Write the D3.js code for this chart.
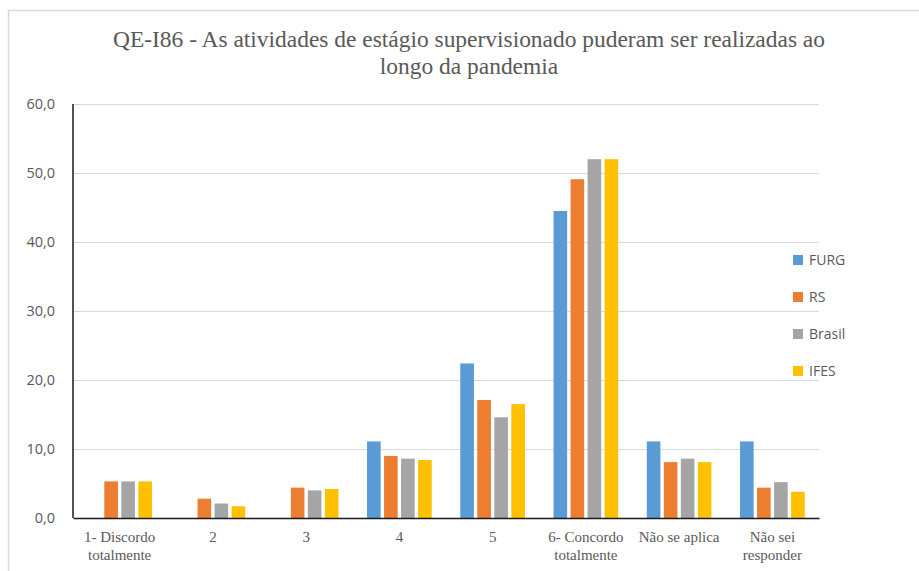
<!DOCTYPE html>
<html><head><meta charset="utf-8">
<script src="https://cdn.jsdelivr.net/npm/d3@7"></script>
<style>html,body{margin:0;padding:0;background:#fff;}svg{display:block;}</style>
</head><body>
<svg id="chart" width="919" height="571"></svg>
<script>
const titleLines = ["QE-I86 - As atividades de estágio supervisionado  puderam ser realizadas ao", "longo  da pandemia"];
const categories = ["1- Discordo\ntotalmente", "2", "3", "4", "5", "6- Concordo\ntotalmente", "Não se aplica", "Não sei\nresponder"];
const seriesNames = ["FURG", "RS", "Brasil", "IFES"];
const seriesColors = ["#5B9BD5", "#ED7D31", "#A5A5A5", "#FFC000"];
const FURG = [0, 0, 0, 11.1, 22.4, 44.5, 11.1, 11.1];
const RS = [5.3, 2.8, 4.4, 9.0, 17.1, 49.1, 8.1, 4.4];
const Brasil = [5.3, 2.1, 4.0, 8.6, 14.6, 52.0, 8.6, 5.2];
const IFES = [5.3, 1.7, 4.2, 8.4, 16.5, 52.0, 8.1, 3.8];
const yTicks = [0, 10, 20, 30, 40, 50, 60];

const seriesValues = [FURG, RS, Brasil, IFES];
const svg = d3.select("#chart");
const W = 919, H = 571;
const m = {left: 73, right: 100, top: 104, bottom: 53};
const innerW = W - m.left - m.right, innerH = H - m.top - m.bottom;

// outer border (partially visible)
svg.append("path").attr("d", `M8.5,${H} L8.5,10.5 L${W},10.5`).attr("fill","none").attr("stroke","#d9d9d9").attr("stroke-width",1.5);

const x = d3.scaleBand().domain(categories).range([m.left, m.left + innerW]).padding(0);
const y = d3.scaleLinear().domain([0, 60]).range([m.top + innerH, m.top]);
const groupW = x.bandwidth() * 0.73;
const xs = d3.scaleBand().domain(seriesNames).range([0, groupW]).paddingInner(0.2).paddingOuter(0.1);

// gridlines
svg.append("g").selectAll("line").data(yTicks.filter(d => d > 0)).join("line")
  .attr("x1", m.left).attr("x2", m.left + innerW)
  .attr("y1", d => y(d) + 0.5).attr("y2", d => y(d) + 0.5)
  .attr("stroke", "#d9d9d9").attr("stroke-width", 1);

// y axis labels
const yAxis = d3.axisLeft(y).tickValues(yTicks).tickSize(0).tickPadding(18)
  .tickFormat(d => d3.format(".1f")(d).replace(".", ","));
const gy = svg.append("g").attr("transform", `translate(${m.left},0)`).call(yAxis);
gy.select(".domain").remove();
gy.selectAll("text").attr("font-family", "'Open Sans', 'Liberation Sans', sans-serif").attr("font-size", 14.5).attr("fill", "#595959");

// bars
const groups = svg.append("g").selectAll("g").data(categories).join("g")
  .attr("transform", d => `translate(${x(d) + (x.bandwidth() - groupW) / 2},0)`);
groups.selectAll("rect").data((c, i) => seriesNames.map((s, j) => ({s, j, v: seriesValues[j][i]}))).join("rect")
  .attr("x", d => xs(d.s)).attr("width", xs.bandwidth())
  .attr("y", d => y(d.v)).attr("height", d => y(0) - y(d.v))
  .attr("fill", d => seriesColors[d.j]);

// axis lines
svg.append("line").attr("x1", m.left).attr("x2", m.left).attr("y1", y(60)).attr("y2", y(0)).attr("stroke", "#1a1a1a").attr("stroke-width", 1.5);
const xAxis = d3.axisBottom(x).tickSize(0).tickFormat("");
const gx = svg.append("g").attr("transform", `translate(0,${y(0)})`).call(xAxis);
gx.select(".domain").attr("stroke", "#1a1a1a").attr("stroke-width", 1.5);

// x labels
gx.selectAll(".tick").each(function(d) {
  const t = d3.select(this).append("text").attr("text-anchor", "middle")
    .attr("font-family", "'Liberation Serif', 'Times New Roman', serif").attr("font-size", 15).attr("fill", "#595959");
  d.split("\n").forEach((line, i) => t.append("tspan").attr("x", 0).attr("y", 24 + i * 18).text(line));
});

// title
const tt = svg.append("g");
const t1 = tt.append("text").attr("x", 469).attr("y", 47).attr("text-anchor", "middle")
  .attr("font-family", "'Liberation Serif', 'Times New Roman', serif").attr("font-size", 22.5).attr("fill", "#595959").text(titleLines[0]);
const t2 = tt.append("text").attr("x", 469).attr("y", 74).attr("text-anchor", "middle")
  .attr("font-family", "'Liberation Serif', 'Times New Roman', serif").attr("font-size", 22.5).attr("fill", "#595959").text(titleLines[1]);
const n1 = t1.node().getComputedTextLength();
const r = 712 / n1;
t1.attr("textLength", 712).attr("lengthAdjust", "spacingAndGlyphs");
t2.attr("textLength", t2.node().getComputedTextLength() * r).attr("lengthAdjust", "spacingAndGlyphs");

// legend
const lg = svg.append("g").selectAll("g").data(seriesNames).join("g")
  .attr("transform", (d, i) => `translate(793,${255 + i * 37})`);
lg.append("rect").attr("width", 10).attr("height", 10).attr("fill", (d, i) => seriesColors[i]);
lg.append("text").attr("x", 16).attr("y", 10).text(d => d)
  .attr("font-family", "'Open Sans', 'Liberation Sans', sans-serif").attr("font-size", 14).attr("fill", "#595959");
</script>
</body></html>
